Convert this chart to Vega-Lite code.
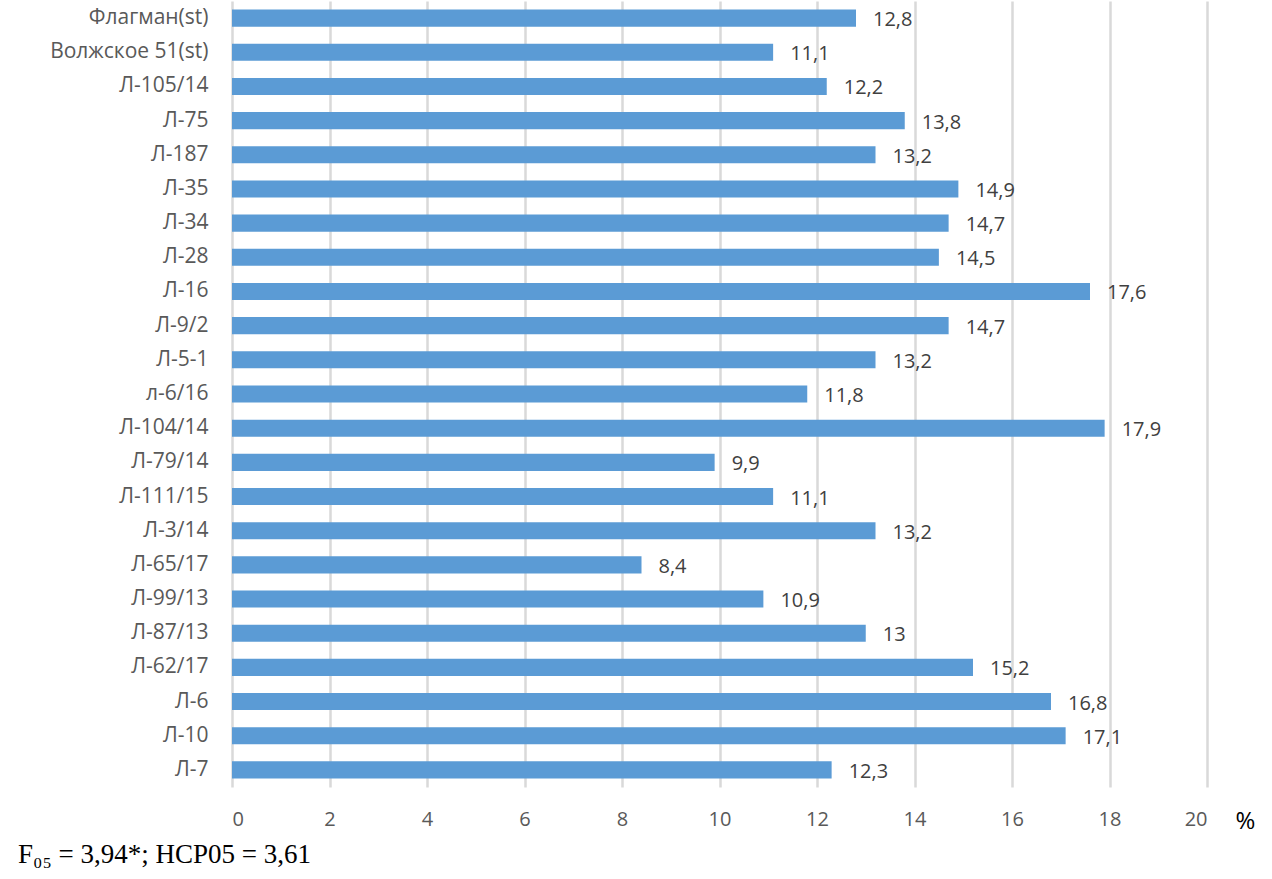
{
  "$schema": "https://vega.github.io/schema/vega-lite/v6.json",
  "autosize": "none",
  "width": 975,
  "height": 786,
  "padding": {"left": 232, "top": 1, "right": 65, "bottom": 92},
  "background": "white",
  "title": {
    "text": "F₀₅ = 3,94*; НСР05 = 3,61",
    "orient": "bottom",
    "anchor": "start",
    "frame": "group",
    "font": "Liberation Serif",
    "fontSize": 27,
    "fontWeight": "normal",
    "color": "#000000",
    "dx": -214,
    "offset": 9
  },
  "data": {
    "values": [
      {"line": "Флагман(st)", "value": 12.8},
      {"line": "Волжское 51(st)", "value": 11.1},
      {"line": "Л-105/14", "value": 12.2},
      {"line": "Л-75", "value": 13.8},
      {"line": "Л-187", "value": 13.2},
      {"line": "Л-35", "value": 14.9},
      {"line": "Л-34", "value": 14.7},
      {"line": "Л-28", "value": 14.5},
      {"line": "Л-16", "value": 17.6},
      {"line": "Л-9/2", "value": 14.7},
      {"line": "Л-5-1", "value": 13.2},
      {"line": "л-6/16", "value": 11.8},
      {"line": "Л-104/14", "value": 17.9},
      {"line": "Л-79/14", "value": 9.9},
      {"line": "Л-111/15", "value": 11.1},
      {"line": "Л-3/14", "value": 13.2},
      {"line": "Л-65/17", "value": 8.4},
      {"line": "Л-99/13", "value": 10.9},
      {"line": "Л-87/13", "value": 13},
      {"line": "Л-62/17", "value": 15.2},
      {"line": "Л-6", "value": 16.8},
      {"line": "Л-10", "value": 17.1},
      {"line": "Л-7", "value": 12.3}
    ]
  },
  "encoding": {
    "y": {
      "field": "line",
      "type": "nominal",
      "sort": null,
      "title": null,
      "scale": {"paddingInner": 0.5, "paddingOuter": 0.25},
      "axis": {
        "domain": false,
        "ticks": false,
        "grid": false,
        "labelFont": "Open Sans",
        "labelFontSize": 21,
        "labelColor": "#595959",
        "labelPadding": 24
      }
    },
    "x": {
      "field": "value",
      "type": "quantitative",
      "scale": {"domain": [0, 20], "nice": false},
      "title": "%",
      "axis": {
        "values": [0, 2, 4, 6, 8, 10, 12, 14, 16, 18, 20],
        "domain": false,
        "ticks": false,
        "grid": true,
        "gridColor": "#d9d9d9",
        "gridWidth": 2.5,
        "labelFont": "Open Sans",
        "labelFontSize": 20,
        "labelColor": "#595959",
        "labelPadding": 22,
        "titleFont": "Open Sans",
        "titleFontSize": 24,
        "titleFontWeight": "normal",
        "titleColor": "#000000",
        "titleAngle": 0,
        "titleAnchor": "end",
        "titleAlign": "left",
        "titleBaseline": "middle",
        "titleX": 1003,
        "titleY": 34
      }
    }
  },
  "layer": [
    {
      "mark": {"type": "bar", "color": "#5b9bd5"}
    },
    {
      "mark": {
        "type": "text",
        "align": "left",
        "baseline": "middle",
        "dx": 17,
        "dy": 2,
        "font": "Open Sans",
        "fontSize": 20,
        "color": "#404040"
      },
      "encoding": {
        "text": {"field": "value", "type": "quantitative", "format": "~g"}
      }
    }
  ],
  "config": {
    "view": {"stroke": null},
    "locale": {
      "number": {
        "decimal": ",",
        "thousands": " ",
        "grouping": [3],
        "currency": ["", ""]
      }
    }
  }
}
